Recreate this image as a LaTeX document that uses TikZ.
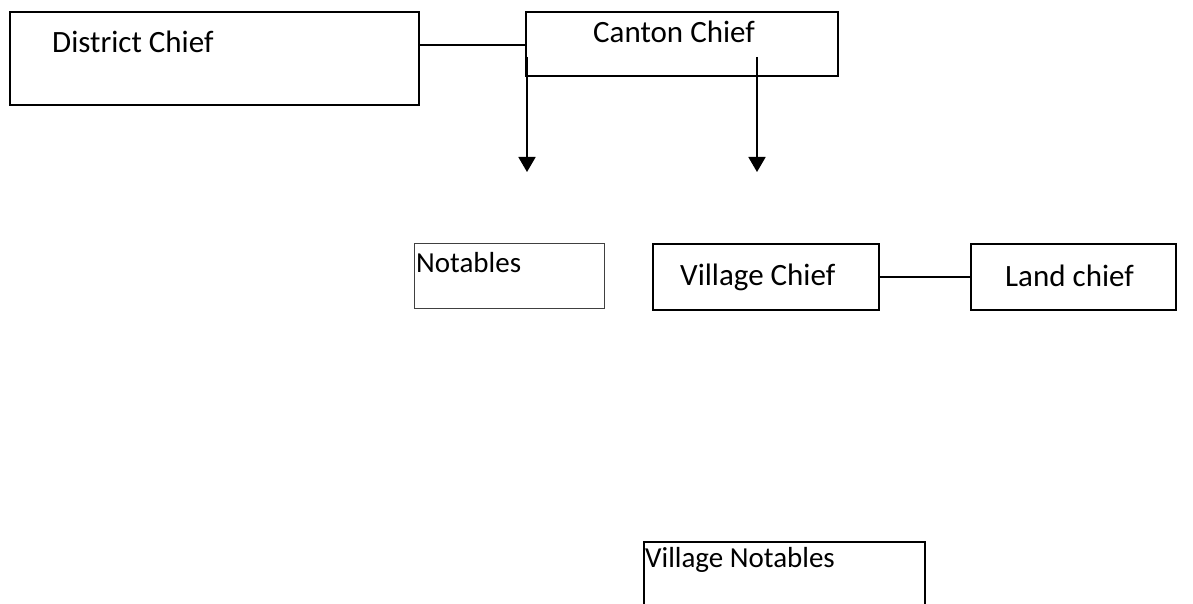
\documentclass[tikz,border=0pt]{standalone}
\usepackage{fontspec}
\setmainfont{Carlito}
\usetikzlibrary{arrows.meta}
\begin{document}
\begin{tikzpicture}[x=1pt,y=-1pt,
  box/.style={draw=black,line width=1.8pt,rectangle,inner sep=0pt,anchor=north west},
  thinbox/.style={box,draw=black!75,line width=1.3pt},
  lbl/.style={inner sep=0pt,anchor=base west,font=\fontsize{31}{36}\selectfont},
  smalllbl/.style={lbl,font=\fontsize{29}{34}\selectfont},
  link/.style={line width=1.8pt},
  down/.style={line width=1.8pt,-{Triangle[width=17pt,length=15pt]}}]
\clip (0,0) rectangle (1193,604);
\fill[white] (0,0) rectangle (1193,604);

% boxes
\node[box,minimum width=409pt,minimum height=93pt] (district) at (9,11) {};
\node[box,minimum width=312pt,minimum height=64pt] (canton) at (525,11) {};
\node[thinbox,minimum width=190pt,minimum height=65pt] (notables) at (414,243) {};
\node[box,minimum width=226pt,minimum height=66pt] (village) at (652,243) {};
\node[box,minimum width=205pt,minimum height=66pt] (land) at (970,243) {};
\node[box,minimum width=281pt,minimum height=90pt] (vnotables) at (643,541) {};

% labels
\node[lbl] (tdistrict) at (52,53) {District Chief};
\node[lbl] (tcanton) at (593,43) {Canton Chief};
\node[smalllbl] (tnotables) at (416,272) {Notables};
\node[lbl] (tvillage) at (680,285) {Village Chief};
\node[lbl] (tland) at (1005,286) {Land chief};
\node[smalllbl] (tvnotables) at (645,567) {Village Notables};

% connectors
\coordinate (joinrow) at (0,45);
\draw[link] (district.east |- joinrow) -- (canton.west |- joinrow);
\draw[link] (village.east) -- (land.west);

\coordinate (srcA) at (527,57);
\coordinate (srcB) at (757,57);
\coordinate (endA) at (527,172);
\coordinate (endB) at (757,172);
\draw[down] (srcA) -- (endA);
\draw[down] (srcB) -- (endB);
\end{tikzpicture}
\end{document}
